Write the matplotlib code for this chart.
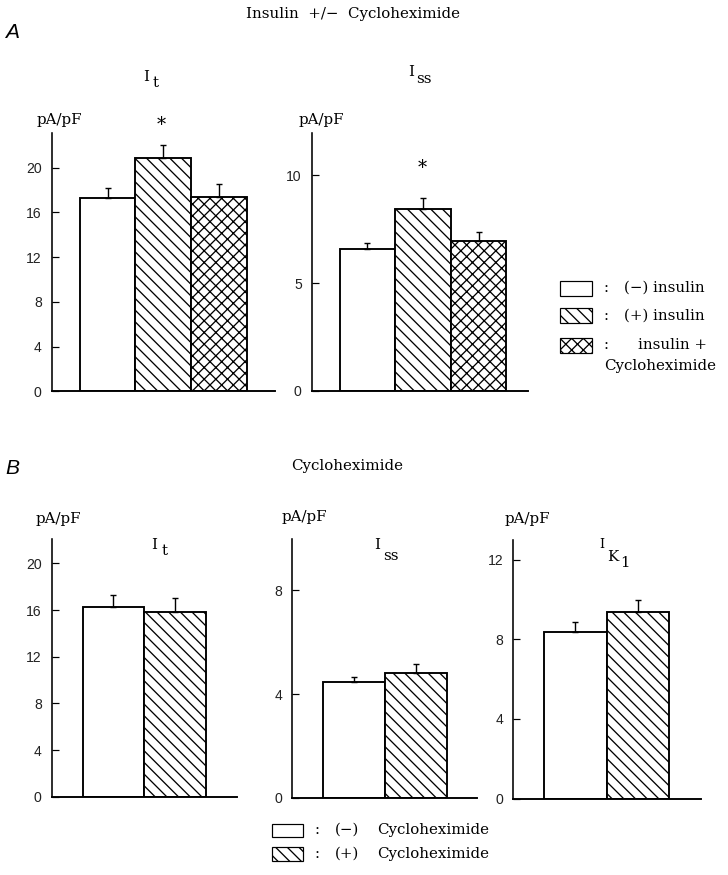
import matplotlib
matplotlib.use('Agg')
import matplotlib.pyplot as plt
from matplotlib.patches import Rectangle

# 数据
groups_a = ['(−) insulin', '(+) insulin', 'insulin + Cycloheximide']
a_it = [17.3, 20.9, 17.4]
a_it_err = [0.9, 1.1, 1.1]
a_iss = [6.6, 8.45, 6.95]
a_iss_err = [0.27, 0.52, 0.41]

groups_b = ['(−) Cycloheximide', '(+) Cycloheximide']
b_it = [16.3, 15.8]
b_it_err = [0.95, 1.2]
b_iss = [4.45, 4.83]
b_iss_err = [0.22, 0.34]
b_ik1 = [8.35, 9.37]
b_ik1_err = [0.52, 0.59]

hatches = ['', '\\\\\\\\', 'xxxx']

DPI = 140
W, H = 728, 875
PT = 72 / DPI  # 1 px 对应的 pt

plt.rcParams['hatch.linewidth'] = 1.3 * PT
SERIF = 'DejaVu Serif'
SANS = 'Liberation Sans'
FS = 15  # 衬线文字像素大小

fig = plt.figure(figsize=(W / DPI, H / DPI), dpi=DPI)


def px_axes(x0, x1, y0, ytop):
    # x0,x1 左右像素, y0 零线像素, ytop 顶端像素
    return fig.add_axes([x0 / W, 1 - y0 / H, (x1 - x0) / W, (y0 - ytop) / H])


def ftext(x, y, s, size, family=SERIF, **kw):
    fig.text(x / W, 1 - y / H, s, fontsize=size * PT, family=family, **kw)


def draw(ax, vals, errs, xmax, ymax, ticks):
    xs = list(range(1, len(vals) + 1))
    for i, v in enumerate(vals):
        ax.bar(xs[i], v, width=1.0, color='white', edgecolor='black',
               hatch=hatches[i], linewidth=1.9 * PT)
    ax.errorbar(xs, vals, yerr=[[0] * len(vals), errs], fmt='none',
                ecolor='black', elinewidth=1.4 * PT, capsize=3.5 * PT,
                capthick=1.4 * PT)
    ax.set_xlim(0, xmax)
    ax.set_ylim(0, ymax)
    ax.set_yticks(ticks)
    ax.set_xticks([])
    for s in ['top', 'right']:
        ax.spines[s].set_visible(False)
    ax.spines['left'].set_linewidth(1.6 * PT)
    ax.spines['bottom'].set_linewidth(1.9 * PT)
    ax.yaxis.set_tick_params(which='major', direction='in', length=7 * PT,
                             width=1.2 * PT, pad=10 * PT, labelsize=14 * PT,
                             labelcolor='#222222')
    for lab in ax.get_yticklabels():
        lab.set_family(SANS)


# A 面板
ax1 = px_axes(51.7, 275, 391.3, 133)
draw(ax1, a_it, a_it_err, 4.0, 23.1, [0, 4, 8, 12, 16, 20])
ax2 = px_axes(311.7, 528, 391, 133)
draw(ax2, a_iss, a_iss_err, 3.89, 11.97, [0, 5, 10])

# B 面板
ax3 = px_axes(51.7, 237, 796.7, 539.3)
draw(ax3, b_it, b_it_err, 3.0, 22.06, [0, 4, 8, 12, 16, 20])
ax4 = px_axes(292.3, 477, 797.7, 539.3)
draw(ax4, b_iss, b_iss_err, 2.99, 9.97, [0, 4, 8])
ax5 = px_axes(513.3, 701, 798.5, 540)
draw(ax5, b_ik1, b_ik1_err, 3.02, 12.98, [0, 4, 8, 12])

# 标题与标签
ftext(5, 33, 'A', 21, family=SANS, style='italic', va='center', ha='left')
ftext(5, 469, 'B', 21, family=SANS, style='italic', va='center', ha='left')
ftext(353, 14, 'Insulin  +/−  Cycloheximide', FS, ha='center', va='center')
ftext(347, 466, 'Cycloheximide', FS, ha='center', va='center')

for x, y in [(59, 120), (321, 120), (58, 519), (304, 517), (527, 519)]:
    ftext(x, y, 'pA/pF', FS, ha='center', va='center')

# 电流名称
ftext(146, 77, 'I', FS, ha='center', va='center')
ftext(156, 83, 't', FS, ha='center', va='center')
ftext(411, 72, 'I', FS, ha='center', va='center')
ftext(424, 79, 'ss', FS, ha='center', va='center')
ftext(154, 545, 'I', FS, ha='center', va='center')
ftext(165, 551, 't', FS, ha='center', va='center')
ftext(377, 545, 'I', FS, ha='center', va='center')
ftext(391, 556, 'ss', FS, ha='center', va='center')
ftext(602, 544, 'I', 12.5, ha='center', va='center')
ftext(613, 557, 'K', FS, ha='center', va='center')
ftext(625, 563, '1', FS, ha='center', va='center')

# 显著性星号
ftext(161, 125, '*', 18, ha='center', va='center')
ftext(422, 168, '*', 18, ha='center', va='center')

# 图例 A
rows_a = [(281, 296, 288), (308, 323, 316), (338, 353, 345)]
for i, (y0, y1, yc) in enumerate(rows_a):
    fig.patches.append(Rectangle((560 / W, 1 - y1 / H), 32 / W, (y1 - y0) / H,
                                 transform=fig.transFigure, facecolor='white',
                                 edgecolor='black', hatch=hatches[i],
                                 linewidth=1.2 * PT))
    ftext(606, yc, ':', FS, ha='center', va='center')
ftext(624, 288, '(−) insulin', FS, ha='left', va='center')
ftext(624, 316, '(+) insulin', FS, ha='left', va='center')
ftext(672, 345, 'insulin +', FS, ha='center', va='center')
ftext(660, 366, 'Cycloheximide', FS, ha='center', va='center')

# 图例 B
rows_b = [(824, 837, 830), (847, 861, 854)]
for i, (y0, y1, yc) in enumerate(rows_b):
    fig.patches.append(Rectangle((272 / W, 1 - y1 / H), 31 / W, (y1 - y0) / H,
                                 transform=fig.transFigure, facecolor='white',
                                 edgecolor='black', hatch=hatches[i],
                                 linewidth=1.2 * PT))
    ftext(317, yc, ':', FS, ha='center', va='center')
ftext(335, 830, '(−)', FS, ha='left', va='center')
ftext(335, 854, '(+)', FS, ha='left', va='center')
ftext(377, 830, 'Cycloheximide', FS, ha='left', va='center')
ftext(377, 854, 'Cycloheximide', FS, ha='left', va='center')

fig.savefig('out.png', dpi=DPI)
